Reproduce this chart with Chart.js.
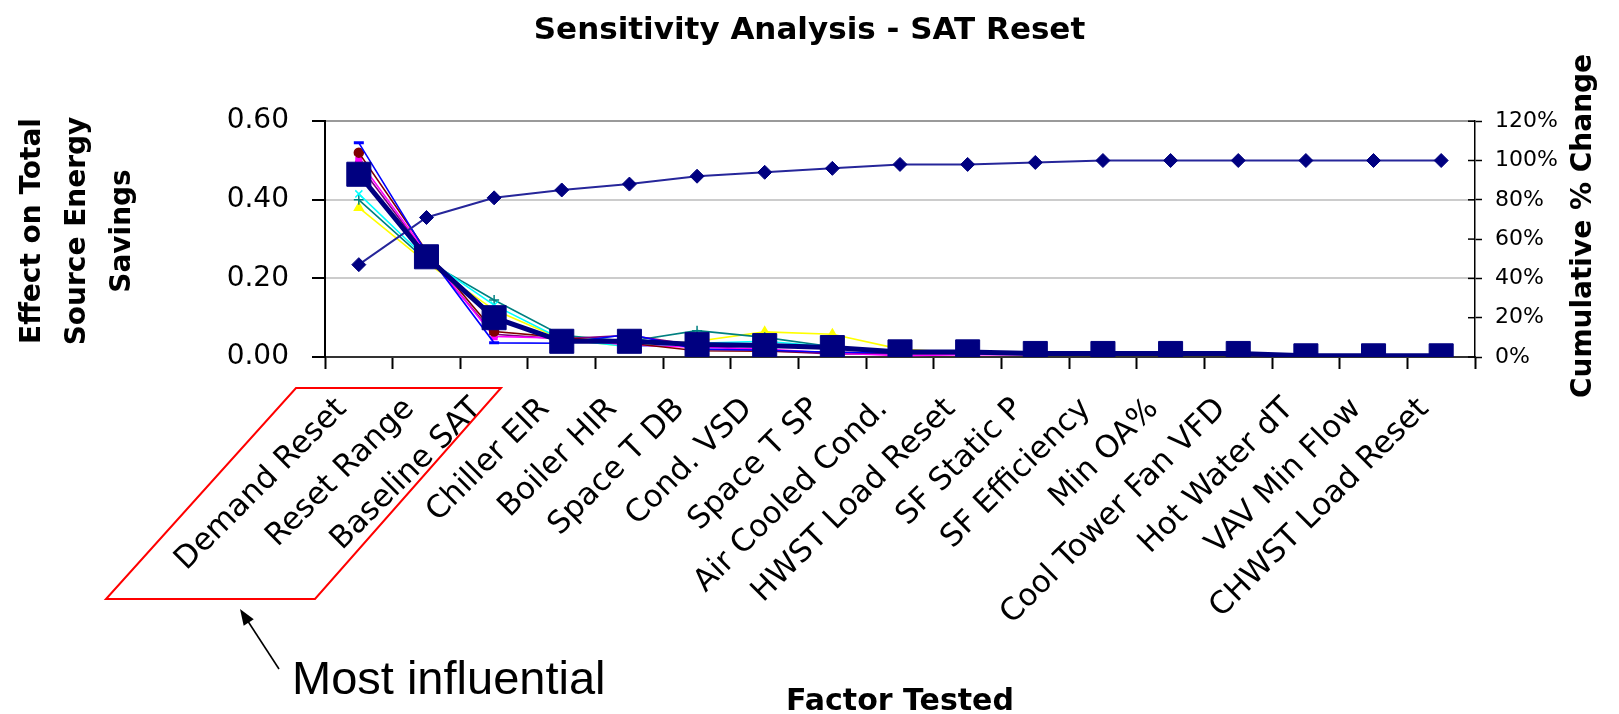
<!DOCTYPE html>
<html>
<head>
<meta charset="utf-8">
<title>Sensitivity Analysis - SAT Reset</title>
<script src="https://cdn.jsdelivr.net/npm/chart.js@4.4.0/dist/chart.umd.min.js"></script>
<style>
  html,body{margin:0;padding:0;background:#fff;}
  #wrap{width:1619px;height:714px;}
</style>
</head>
<body>
<div id="wrap"><canvas id="chart" width="1619" height="714"></canvas></div>
<script>
// ====== DATA ======
const FACTORS = ['Demand Reset','Reset Range','Baseline SAT','Chiller EIR','Boiler HIR','Space T DB','Cond. VSD','Space T SP','Air Cooled Cond.','HWST Load Reset','SF Static P','SF Efficiency','Min OA%','Cool Tower Fan VFD','Hot Water dT','VAV Min Flow','CHWST Load Reset'];
// average effect (big navy squares)
const EFFECT_MEAN = [0.465,0.255,0.100,0.040,0.040,0.032,0.029,0.024,0.013,0.013,0.009,0.009,0.009,0.009,0.003,0.003,0.003];
// cumulative % change (right axis)
const CUMULATIVE = [47,71,81,85,88,92,94,96,98,98,99,100,100,100,100,100,100];
// individual runs (thin lines)
const RUN_BLUE    = [0.545,0.265,0.036,0.035,0.058,0.020,0.017,0.012,0.010,0.009,0.008,0.008,0.007,0.006,0.003,0.002,0.002];
const RUN_MAROON  = [0.520,0.270,0.065,0.050,0.035,0.016,0.015,0.012,0.010,0.009,0.008,0.007,0.007,0.006,0.003,0.002,0.002];
const RUN_MAGENTA = [0.500,0.265,0.052,0.048,0.030,0.025,0.020,0.010,0.003,0.006,0.006,0.006,0.006,0.005,0.003,0.002,0.002];
const RUN_PURPLE  = [0.490,0.260,0.058,0.046,0.055,0.030,0.016,0.008,0.008,0.007,0.006,0.006,0.006,0.005,0.002,0.002,0.002];
const RUN_CYAN    = [0.415,0.250,0.132,0.045,0.026,0.035,0.040,0.026,0.012,0.010,0.008,0.007,0.007,0.006,0.004,0.003,0.002];
const RUN_TEAL    = [0.400,0.245,0.145,0.055,0.040,0.067,0.050,0.026,0.014,0.010,0.008,0.008,0.007,0.006,0.003,0.002,0.002];
const RUN_YELLOW  = [0.380,0.240,0.120,0.045,0.026,0.040,0.064,0.058,0.020,0.010,0.008,0.008,0.007,0.006,0.003,0.002,0.002];
const Y_TICKS_LEFT = [0, 0.2, 0.4, 0.6];
const Y_TICKS_RIGHT = [0, 20, 40, 60, 80, 100, 120];

// ====== HELPERS ======
function run(data, color, style, r){
  return {type:'line', data, yAxisID:'y', borderColor:color, backgroundColor:color,
    pointBorderColor:color, pointBackgroundColor:color, borderWidth:1.6, pointStyle:style,
    pointRadius:r||4, pointBorderWidth:style==='line'?3:1.5, tension:0, order:3};
}

// ====== EXTRA DRAWING ======
const extras = {
  id:'extras',
  afterDraw(chart){
    const ctx = chart.ctx, a = chart.chartArea, y2 = chart.scales.y2;
    ctx.save();
    // inner half of right axis ticks
    ctx.strokeStyle = '#000'; ctx.lineWidth = 1.5;
    Y_TICKS_RIGHT.forEach(v=>{
      const p = y2.getPixelForValue(v);
      ctx.beginPath(); ctx.moveTo(a.right-7, p); ctx.lineTo(a.right, p); ctx.stroke();
    });
    // axis titles (rotated, reading upwards)
    ctx.fillStyle = '#000';
    ctx.font = 'bold 28px "DejaVu Sans"';
    ctx.textAlign = 'center'; ctx.textBaseline = 'middle';
    ['Effect on Total','Source Energy','Savings'].forEach((t,i)=>{
      ctx.save(); ctx.translate(33+45*i, 231); ctx.rotate(-Math.PI/2); ctx.fillText(t,0,0); ctx.restore();
    });
    ctx.save(); ctx.translate(1584, 226); ctx.rotate(-Math.PI/2); ctx.fillText('Cumulative % Change',0,0); ctx.restore();
    // red box around the three most influential factors
    ctx.strokeStyle = '#ff0000'; ctx.lineWidth = 2;
    ctx.beginPath();
    ctx.moveTo(106,599); ctx.lineTo(315,599); ctx.lineTo(501,388); ctx.lineTo(296,388); ctx.closePath();
    ctx.stroke();
    // arrow
    const tx=240, ty=609, fx=279, fy=669;
    const ang = Math.atan2(ty-fy, tx-fx);
    ctx.strokeStyle = '#000'; ctx.lineWidth = 1.6;
    ctx.beginPath(); ctx.moveTo(fx,fy); ctx.lineTo(tx-Math.cos(ang)*8, ty-Math.sin(ang)*8); ctx.stroke();
    ctx.beginPath();
    ctx.moveTo(tx,ty);
    ctx.lineTo(tx-Math.cos(ang)*16+Math.sin(ang)*6, ty-Math.sin(ang)*16-Math.cos(ang)*6);
    ctx.lineTo(tx-Math.cos(ang)*16-Math.sin(ang)*6, ty-Math.sin(ang)*16+Math.cos(ang)*6);
    ctx.closePath(); ctx.fillStyle='#000'; ctx.fill();
    ctx.font = '47px "Liberation Sans"';
    ctx.textAlign = 'left'; ctx.textBaseline = 'alphabetic';
    ctx.fillText('Most influential', 292, 694);
    ctx.restore();
  }
};

// ====== CHART ======
const datasets = [
  {type:'line', label:'Mean effect', data:EFFECT_MEAN, yAxisID:'y', borderColor:'#000080', backgroundColor:'#000080',
   pointBackgroundColor:'#000080', pointBorderColor:'#000080', borderWidth:5, pointStyle:'rect', pointRadius:17, pointBorderWidth:1, tension:0, order:0},
  {type:'line', label:'Cumulative', data:CUMULATIVE, yAxisID:'y2', borderColor:'#26269a', backgroundColor:'#000080',
   pointBackgroundColor:'#000080', pointBorderColor:'#000080', borderWidth:2, pointStyle:'rectRot', pointRadius:7, pointBorderWidth:1, tension:0, order:1},
  run(RUN_BLUE,'#0000ff','line',5),
  run(RUN_MAROON,'#800000','circle',4.5),
  run(RUN_MAGENTA,'#ff00ff','rect',4),
  run(RUN_PURPLE,'#800080','star',5),
  run(RUN_CYAN,'#00ffff','crossRot',5),
  run(RUN_TEAL,'#008080','cross',5),
  run(RUN_YELLOW,'#ffff00','triangle',5)
];

new Chart(document.getElementById('chart'), {
  data:{labels:FACTORS, datasets},
  options:{
    responsive:false, animation:false, devicePixelRatio:1,
    layout:{padding:0},
    plugins:{
      legend:{display:false}, tooltip:{enabled:false},
      title:{display:true, text:'Sensitivity Analysis - SAT Reset', color:'#000',
        font:{family:'DejaVu Sans', weight:'bold', size:31, lineHeight:1.2}, padding:{top:12, bottom:72}}
    },
    scales:{
      x:{
        type:'category', offset:true,
        grid:{offset:true, drawOnChartArea:false, tickLength:12, tickColor:'#000', tickWidth:2},
        border:{color:'#333', width:2},
        ticks:{autoSkip:false, maxRotation:45, minRotation:45, color:'#000',
          font:{family:'DejaVu Sans', size:31}, padding:22, labelOffset:-17},
        title:{display:true, text:'Factor Tested', color:'#000',
          font:{family:'DejaVu Sans', weight:'bold', size:30, lineHeight:0.8}, padding:{top:0, bottom:0}},
        afterFit(s){ s.height = 357; }
      },
      y:{
        position:'left', min:0, max:0.6,
        afterBuildTicks(s){ s.ticks = Y_TICKS_LEFT.map(v=>({value:v})); },
        ticks:{color:'#000', font:{family:'DejaVu Sans', size:28}, padding:23, callback:v=>Number(v).toFixed(2)},
        grid:{color:c=>Math.abs(c.tick.value-0.6)<1e-6?'#9a9a9a':'#cccccc', lineWidth:2, tickLength:13, tickColor:'#000', tickWidth:2},
        border:{color:'#000', width:2},
        afterFit(s){ s.width = 325; }
      },
      y2:{
        position:'right', min:0, max:120,
        afterBuildTicks(s){ s.ticks = Y_TICKS_RIGHT.map(v=>({value:v})); },
        ticks:{color:'#000', font:{family:'DejaVu Sans', size:22}, padding:13, callback:v=>v+'%'},
        grid:{drawOnChartArea:false, tickLength:7, tickColor:'#000', tickWidth:1.5},
        border:{color:'#000', width:1.5},
        afterFit(s){ s.width = 144; }
      }
    }
  },
  plugins:[extras]
});
</script>
</body>
</html>
